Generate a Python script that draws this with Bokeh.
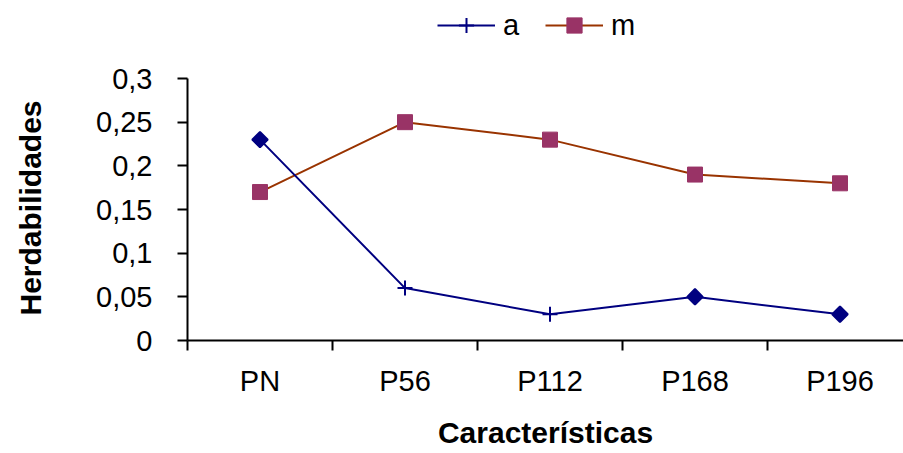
import math
from bokeh.plotting import figure
from bokeh.models import FixedTicker, Range1d, Legend, LegendItem, ColumnDataSource
from bokeh.embed import file_html
from bokeh.resources import INLINE

# ---- data ----
categories = ["PN", "P56", "P112", "P168", "P196"]
series_a = [0.23, 0.06, 0.03, 0.05, 0.03]
series_m = [0.17, 0.25, 0.23, 0.19, 0.18]
y_ticks = [0, 0.05, 0.1, 0.15, 0.2, 0.25, 0.3]
y_tick_labels = ["0", "0,05", "0,1", "0,15", "0,2", "0,25", "0,3"]
a_markers = ["diamond", "cross", "cross", "diamond", "diamond"]

x_pos = [i + 0.5 for i in range(len(categories))]
boundaries = list(range(len(categories) + 1))
y_max = y_ticks[-1]

FONT = "Liberation Sans"
BLUE = "#000080"
BROWN = "#993300"
PLUM = "#993366"

# frame spans the full top of the canvas so the legend (drawn in the frame) is not clipped;
# the plotted area 0..0.3 occupies pixel rows 78..340
FRAME_H = 340
PLOT_H = 262
p = figure(width=903, height=453, output_backend="svg", toolbar_location=None,
           x_range=Range1d(0, (903 - 187) / 145.0),
           y_range=Range1d(0, y_max * FRAME_H / PLOT_H),
           min_border_left=187, min_border_right=0, min_border_top=0, min_border_bottom=113)
p.outline_line_color = None
p.grid.visible = False
p.background_fill_color = "white"
p.border_fill_color = "white"

# axes
xa = p.xaxis[0]
xa.ticker = FixedTicker(ticks=x_pos, minor_ticks=boundaries)
xa.major_label_overrides = {x: c for x, c in zip(x_pos, categories)}
xa.major_tick_out = 0
xa.major_tick_in = 0
xa.minor_tick_out = 10
xa.minor_tick_in = 0
xa.minor_tick_line_color = "black"
xa.minor_tick_line_width = 2
xa.axis_line_width = 2
xa.major_label_text_font = FONT
xa.major_label_text_font_size = "29px"
xa.major_label_text_color = "black"
xa.major_label_standoff = 14
xa.axis_label = "Características"
xa.axis_label_text_font = FONT
xa.axis_label_text_font_size = "30px"
xa.axis_label_text_font_style = "bold"
xa.axis_label_text_color = "black"
xa.axis_label_standoff = 16

ya = p.yaxis[0]
ya.bounds = (0, y_max)
ya.ticker = FixedTicker(ticks=y_ticks, minor_ticks=[])
ya.major_label_overrides = {t: l for t, l in zip(y_ticks, y_tick_labels)}
ya.major_tick_out = 10
ya.major_tick_in = 0
ya.major_tick_line_width = 2
ya.axis_line_width = 2
ya.major_label_text_font = FONT
ya.major_label_text_font_size = "29px"
ya.major_label_text_color = "black"
ya.major_label_standoff = 25
# trailing em/en spaces shift the visible title down to centre it on the 0..0.3 span
ya.axis_label = "Herdabilidades\u2003\u2003\u2002"
ya.axis_label_text_font = FONT
ya.axis_label_text_font_size = "30px"
ya.axis_label_text_font_style = "bold"
ya.axis_label_text_color = "black"
ya.axis_label_standoff = 46

# series m
src_m = ColumnDataSource(dict(x=x_pos, y=series_m))
lm = p.line("x", "y", source=src_m, line_color=BROWN, line_width=2)
p.scatter("x", "y", source=src_m, marker="square", size=15,
          fill_color=PLUM, line_color=PLUM)

# series a (diamonds drawn as 45-degree squares, pluses as crosses)
glyph_marker = ["square" if m == "diamond" else "cross" for m in a_markers]
glyph_angle = [math.pi / 4 if m == "diamond" else 0.0 for m in a_markers]
glyph_size = [11 if m == "diamond" else 15 for m in a_markers]
src_a = ColumnDataSource(dict(x=x_pos, y=series_a, marker=glyph_marker,
                              angle=glyph_angle, size=glyph_size))
la = p.line("x", "y", source=src_a, line_color=BLUE, line_width=2)
p.scatter("x", "y", source=src_a, marker="marker", size="size", angle="angle",
          fill_color=BLUE, line_color=BLUE, line_width=2)

# legend-only glyphs (one NaN point, never drawn in the plot)
nan = float("nan")
leg_a = p.scatter([nan], [nan], marker="cross", size=15, line_color=BLUE, line_width=2)
leg_m = p.scatter([nan], [nan], marker="square", size=15, fill_color=PLUM, line_color=PLUM)

legend = Legend(items=[LegendItem(label="a", renderers=[la, leg_a]),
                       LegendItem(label="m", renderers=[lm, leg_m])],
                orientation="horizontal", location=(250, 296),
                glyph_width=58, glyph_height=38, label_standoff=8, spacing=22,
                padding=0, margin=0, border_line_color=None,
                background_fill_alpha=0,
                label_text_font=FONT, label_text_font_size="29px",
                label_text_color="black")
p.add_layout(legend, "center")

open("out.html", "w").write(file_html(p, INLINE))
